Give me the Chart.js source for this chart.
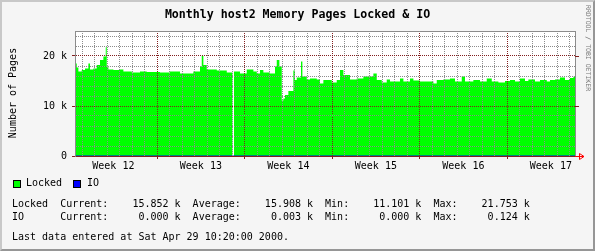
<!DOCTYPE html>
<html>
<head>
<meta charset="utf-8">
<script src="https://cdn.jsdelivr.net/npm/chart.js@4.4.0/dist/chart.umd.min.js"></script>
<style>
  html, body { margin: 0; padding: 0; }
  body { width: 595px; height: 251px; overflow: hidden; position: relative; background: #f5f5f5;
         font-family: 'DejaVu Sans Mono', monospace; }
  #frame { position: absolute; left: 0; top: 0; width: 595px; height: 251px; box-sizing: border-box;
           border-top: 2px solid #c8c8c8; border-left: 2px solid #c8c8c8;
           border-right: 2px solid #969696; border-bottom: 2px solid #969696; }
  #plot { position: absolute; left: 0; top: 0; }
  .txt { position: absolute; font-size: 10px; line-height: 10px; white-space: pre; color: #000; }
  #title { left: 0; width: 595px; top: 8px; text-align: center; font-weight: bold; font-size: 11.6px; line-height: 12px; }
  #ytitle { left: -47px; top: 88px; width: 120px; height: 10px; text-align: center; transform: rotate(-90deg); }
  #credit { left: 584px; top: 5px; font-size: 6.5px; line-height: 8px; writing-mode: vertical-rl; color: #7a7a7a; }
  .box { position: absolute; width: 6px; height: 6px; border: 1px solid #000; top: 180px; }
</style>
</head>
<body>
<div id="frame"></div>
<canvas id="plot" width="595" height="251"></canvas>
<div class="txt" id="title">Monthly host2 Memory Pages Locked &amp; IO</div>
<div class="txt" id="ytitle">Number of Pages</div>
<div class="txt" id="credit">RRDTOOL / TOBI OETIKER</div>
<div class="box" style="left:13px;background:#00ff00"></div>
<div class="txt" style="left:26px;top:178px">Locked</div>
<div class="box" style="left:73px;background:#0000ff"></div>
<div class="txt" style="left:87px;top:178px">IO</div>
<div class="txt" id="row1" style="left:12px;top:199px"></div>
<div class="txt" id="row2" style="left:12px;top:211.5px"></div>
<div class="txt" style="left:12px;top:232px">Last data entered at Sat Apr 29 10:20:00 2000.</div>
<script>
// time axis in days, 0 = start of week 12
var xMin = 0.43
var xMax = 40.43
var weekStarts = [0, 7, 14, 21, 28, 35]
var weekLabels = ['Week 12', 'Week 13', 'Week 14', 'Week 15', 'Week 16', 'Week 17']

var yMax = 25000
var yGridValues = [0, 2000, 4000, 6000, 8000, 10000, 12000, 14000, 16000, 18000, 20000, 22000, 24000]
var yLabelValues = [0, 10000, 20000]
var yLabelTexts = ['0', '10 k', '20 k']

// Locked pages, value holds until next point
var lockedDays = [0.43, 0.57, 0.70, 0.97, 1.23, 1.50, 1.63, 1.90, 2.17, 2.43, 2.70, 2.89, 2.97, 3.10, 3.50,
  4.03, 4.30, 4.97, 5.63, 6.17, 7.23, 8.03, 8.83, 9.90, 10.43, 10.57, 10.70, 10.97, 11.77, 12.57,
  13.04, 13.10, 13.15, 13.63, 14.17, 14.70, 14.97, 15.23, 15.50, 16.03, 16.43, 16.57, 16.78, 16.97,
  17.10, 17.23, 17.50, 17.90, 18.03, 18.17, 18.51, 18.62, 18.97, 19.23, 19.77, 20.03, 20.30, 20.97,
  21.37, 21.63, 21.90, 22.43, 22.97, 23.50, 24.30, 24.57, 24.97, 25.37, 25.63, 26.43, 26.70, 27.23,
  27.50, 28.03, 29.10, 29.37, 29.90, 30.43, 30.83, 31.37, 31.63, 32.30, 32.83, 33.37, 33.77, 34.30,
  34.83, 35.23, 35.63, 36.03, 36.43, 36.70, 37.23, 37.63, 38.17, 38.43, 38.83, 39.23, 39.63, 40.03,
  40.30, 40.43]
var lockedPages = [18500, 17700, 16900, 17200, 17500, 18500, 17300, 17500, 18200, 19200, 19900, 21753, 17900, 17300, 17200,
  17300, 16900, 16700, 16900, 16800, 16700, 16900, 16500, 16900, 17900, 20000, 18200, 17300, 17100, 16700,
  16800, null, 16900, 16500, 17300, 16900, 16500, 17200, 16700, 16500, 17900, 19200, 17900, 11101,
  11500, 12200, 13000, 17100, 15200, 15700, 18900, 15900, 15300, 15500, 15300, 14500, 15200, 14700,
  15200, 17200, 16200, 15300, 15500, 15900, 16500, 15200, 14700, 15300, 14900, 15500, 14900, 15500,
  15100, 14900, 14500, 15200, 15300, 15500, 14900, 15900, 14900, 15200, 14900, 15500, 14900, 14700,
  15000, 15200, 14900, 15500, 15000, 15300, 14900, 15200, 14900, 15200, 15300, 15700, 15200, 15600,
  15852, 15852]

var ioDays = [0.43, 40.43]
var ioPages = [0, 0]

// legend statistics
var statNames = ['Current:', 'Average:', 'Min:', 'Max:']
var lockedStats = ['15.852', '15.908', '11.101', '21.753']
var ioStats = ['0.000', '0.003', '0.000', '0.124']

function statLine(name, vals) {
  return name.padEnd(8) + statNames.map(function (s, i) { return s + vals[i].padStart(10) + ' k' }).join('  ')
}
document.getElementById('row1').textContent = statLine('Locked', lockedStats)
document.getElementById('row2').textContent = statLine('IO', ioStats)

var gridGray = '#8c8c8c'
var gridRed = '#821e1e'
var none = 'rgba(0,0,0,0)'
var monoFont = {family: 'DejaVu Sans Mono', size: 10}

function pts(xs, ys) { return xs.map(function (x, i) { return {x: x, y: ys[i]} }) }

var rrdFrame = {
  id: 'rrdFrame',
  beforeDraw: function (chart) {
    var a = chart.chartArea, c = chart.ctx
    c.save()
    c.fillStyle = '#ffffff'
    c.fillRect(a.left, a.top, a.right - a.left, a.bottom - a.top)
    c.restore()
  },
  afterDraw: function (chart) {
    var a = chart.chartArea, c = chart.ctx, y = chart.scales.y
    c.save()
    c.lineWidth = 1
    c.strokeStyle = gridGray
    c.beginPath()
    c.moveTo(a.left, a.top + 0.5); c.lineTo(a.right + 1, a.top + 0.5)
    c.moveTo(a.right + 0.5, a.top); c.lineTo(a.right + 0.5, a.bottom)
    c.stroke()
    c.strokeStyle = gridRed
    c.beginPath()
    yLabelValues.forEach(function (v) {
      if (v === 0) return
      var py = Math.round(y.getPixelForValue(v)) + 0.5
      c.moveTo(a.right, py); c.lineTo(a.right + 4, py)
    })
    c.stroke()
    // axis arrow
    var y0 = Math.round(a.bottom) + 0.5
    c.strokeStyle = '#ff0000'
    c.beginPath()
    c.moveTo(a.right, y0); c.lineTo(a.right + 9, y0)
    c.moveTo(a.right + 4.5, y0 - 3); c.lineTo(a.right + 9, y0); c.lineTo(a.right + 4.5, y0 + 3); c.closePath()
    c.stroke()
    c.restore()
  }
}

var ctx = document.getElementById('plot').getContext('2d')
var chart = new Chart(ctx, {
  type: 'line',
  data: {
    datasets: [{
      label: 'Locked',
      data: pts(lockedDays, lockedPages),
      stepped: true,
      fill: 'origin',
      backgroundColor: '#00ff00',
      borderWidth: 0,
      pointRadius: 0,
      order: 1
    }, {
      label: 'IO',
      data: pts(ioDays, ioPages),
      borderColor: '#0000ff',
      borderWidth: 1,
      pointRadius: 0,
      fill: false,
      order: 0
    }]
  },
  options: {
    responsive: false,
    animation: false,
    devicePixelRatio: 1,
    layout: {padding: {top: 31, right: 20, left: 0, bottom: 0}},
    plugins: {legend: {display: false}, tooltip: {enabled: false}},
    scales: {
      x: {
        type: 'linear',
        min: xMin,
        max: xMax,
        afterBuildTicks: function (scale) {
          var t = []
          for (var d = Math.ceil(xMin); d <= xMax; d++) t.push({value: d})
          weekStarts.forEach(function (s) { t.push({value: s + 3.5}) })
          t.sort(function (a, b) { return a.value - b.value })
          scale.ticks = t
        },
        afterFit: function (scale) { scale.height = 95 },
        ticks: {
          autoSkip: false, maxRotation: 0, minRotation: 0, padding: 1,
          font: monoFont, color: '#000',
          callback: function (v) {
            var i = weekStarts.indexOf(v - 3.5)
            return i >= 0 ? weekLabels[i] : ''
          }
        },
        grid: {
          z: 1,
          tickLength: 3,
          color: function (c) {
            var v = c.tick.value
            if (weekStarts.indexOf(v) >= 0) return gridRed
            return Number.isInteger(v) ? gridGray : none
          },
          tickColor: function (c) { return weekStarts.indexOf(c.tick.value) >= 0 ? gridRed : none }
        },
        border: {color: gridRed, dash: [1, 1], z: 1}
      },
      y: {
        min: 0,
        max: yMax,
        afterBuildTicks: function (scale) {
          scale.ticks = yGridValues.map(function (v) { return {value: v} })
        },
        afterFit: function (scale) { scale.width = 75 },
        ticks: {
          autoSkip: false, padding: 5, font: monoFont, color: '#000',
          callback: function (v) {
            var i = yLabelValues.indexOf(v)
            return i >= 0 ? yLabelTexts[i] : ''
          }
        },
        grid: {
          z: 1,
          tickLength: 3,
          color: function (c) { return yLabelValues.indexOf(c.tick.value) >= 0 ? gridRed : gridGray },
          tickColor: function (c) { return yLabelValues.indexOf(c.tick.value) >= 0 ? gridRed : none }
        },
        border: {color: gridGray, dash: [1, 1], z: 1}
      }
    }
  },
  plugins: [rrdFrame]
})
</script>
</body>
</html>
